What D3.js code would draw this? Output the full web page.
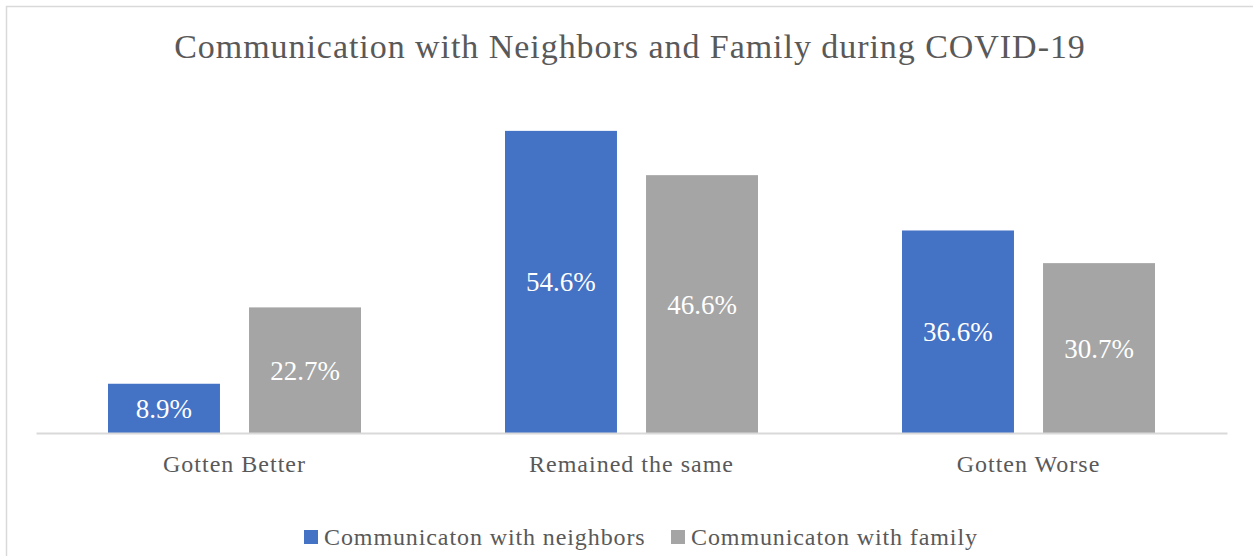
<!DOCTYPE html>
<html>
<head>
<meta charset="utf-8">
<script src="https://cdn.jsdelivr.net/npm/d3@7"></script>
<style>
  html, body { margin: 0; padding: 0; background: #fff; }
  svg { display: block; font-family: "Liberation Serif", "Times New Roman", serif; }
</style>
</head>
<body>
<svg id="chart" width="1253" height="556"></svg>
<script>
const categories = ["Gotten Better", "Remained the same", "Gotten Worse"];
const seriesNames = ["Communicaton with neighbors", "Communicaton with family"];
const neighbors = [8.9, 54.6, 36.6];
const family = [22.7, 46.6, 30.7];
const seriesColors = ["#4472c4", "#a5a5a5"];

const svg = d3.select("#chart");
const W = 1253, H = 556;

// chart frame
svg.append("rect")
  .attr("x", 6.5).attr("y", 6.5)
  .attr("width", W + 20).attr("height", H + 20)
  .attr("fill", "#fff").attr("stroke", "#d9d9d9").attr("stroke-width", 1.5);

const plot = { left: 36, right: 1227, top: 101, bottom: 433 };

const x0 = d3.scaleBand().domain(categories)
  .range([plot.left, plot.right]).paddingInner(0).paddingOuter(0);
const x1 = d3.scaleBand().domain(seriesNames)
  .range([72, x0.bandwidth() - 72]).paddingInner(0.206).paddingOuter(0);
const y = d3.scaleLinear().domain([0, 60]).range([plot.bottom, plot.top]);

const rows = categories.map((c, i) => ({
  category: c,
  values: [neighbors[i], family[i]]
}));

// title
svg.append("text")
  .attr("x", 630).attr("y", 58)
  .attr("text-anchor", "middle")
  .attr("font-size", 34)
  .attr("letter-spacing", 0.95)
  .attr("fill", "#595959")
  .text("Communication with Neighbors and Family during COVID-19");

const groups = svg.selectAll("g.group").data(rows).enter().append("g")
  .attr("class", "group")
  .attr("transform", d => `translate(${x0(d.category)},0)`);

groups.selectAll("rect").data(d => d.values.map((v, j) => ({ v, s: seriesNames[j], j })))
  .enter().append("rect")
  .attr("x", d => x1(d.s))
  .attr("width", x1.bandwidth())
  .attr("y", d => y(d.v))
  .attr("height", d => y(0) - y(d.v))
  .attr("fill", d => seriesColors[d.j]);

groups.selectAll("text.val").data(d => d.values.map((v, j) => ({ v, s: seriesNames[j], j })))
  .enter().append("text")
  .attr("class", "val")
  .attr("x", d => x1(d.s) + x1.bandwidth() / 2)
  .attr("y", d => (y(d.v) + y(0)) / 2)
  .attr("dy", "0.35em")
  .attr("text-anchor", "middle")
  .attr("font-size", 27)
  .attr("fill", "#fff")
  .text(d => d.v.toFixed(1) + "%");

// category axis
const xAxis = svg.append("g")
  .attr("transform", `translate(0,${plot.bottom})`)
  .call(d3.axisBottom(x0).tickSize(0).tickPadding(22));
xAxis.select(".domain").attr("stroke", "#d9d9d9").attr("stroke-width", 2);
xAxis.selectAll("text")
  .attr("font-family", "Liberation Serif, serif")
  .attr("font-size", 24)
  .attr("letter-spacing", 1)
  .attr("fill", "#595959");

// legend
const legend = svg.append("g").attr("transform", "translate(304,537)");
const legendX = [0, 367];
seriesNames.forEach((name, j) => {
  const g = legend.append("g").attr("transform", `translate(${legendX[j]},0)`);
  g.append("rect").attr("x", 0).attr("y", -7).attr("width", 14).attr("height", 14)
    .attr("fill", seriesColors[j]);
  g.append("text").attr("x", 20).attr("y", 0).attr("dy", "0.35em")
    .attr("font-size", 24).attr("letter-spacing", 0.9).attr("fill", "#595959").text(name);
});
</script>
</body>
</html>
